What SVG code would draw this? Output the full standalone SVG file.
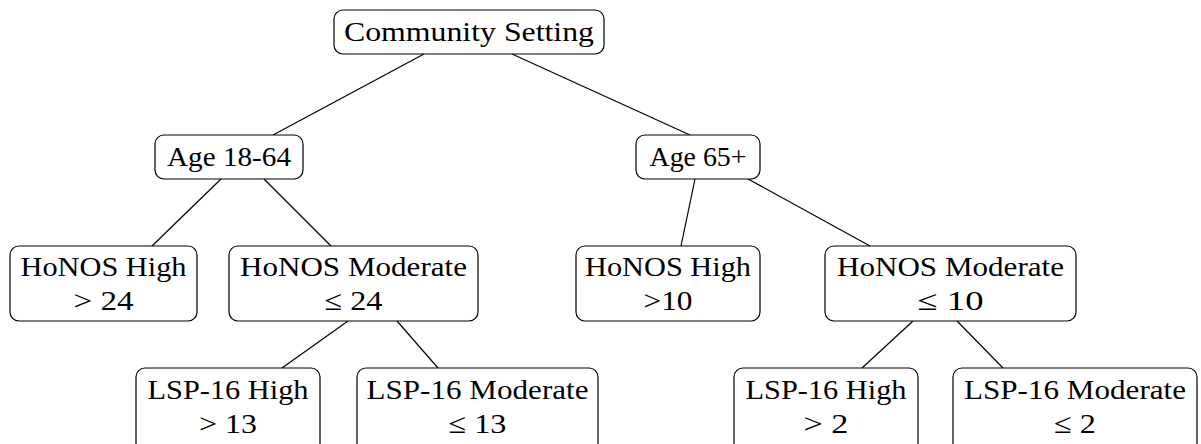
<svg xmlns="http://www.w3.org/2000/svg" width="1201" height="444" viewBox="0 0 1201 444">
  <style>
    .box { fill: #ffffff; stroke: #000000; stroke-width: 1.2; }
    .lbl { font-family: "Liberation Serif", "DejaVu Serif", serif; font-size: 28px; fill: #000000; text-anchor: middle; }
    .edge { stroke: #000000; stroke-width: 1.2; fill: none; }
  </style>
  <rect width="1201" height="444" fill="#ffffff"/>

  <!-- tree edges -->
  <g id="connectors">
    <line class="edge" x1="424" y1="54" x2="273" y2="135"/>
    <line class="edge" x1="512" y1="54" x2="690" y2="135"/>
    <line class="edge" x1="221" y1="179" x2="152" y2="246"/>
    <line class="edge" x1="264" y1="179" x2="331" y2="246"/>
    <line class="edge" x1="695" y1="179" x2="681" y2="246"/>
    <line class="edge" x1="748" y1="179" x2="870" y2="246"/>
    <line class="edge" x1="348" y1="321" x2="282" y2="368"/>
    <line class="edge" x1="397" y1="321" x2="438" y2="368"/>
    <line class="edge" x1="913" y1="321" x2="862" y2="368"/>
    <line class="edge" x1="957" y1="321" x2="1003" y2="368"/>
  </g>

  <g id="root">
    <rect class="box" x="334" y="10" width="270" height="44" rx="9"/>
    <text class="lbl" x="469" y="41" textLength="250" lengthAdjust="spacingAndGlyphs">Community Setting</text>
  </g>

  <g id="age-18-64">
    <rect class="box" x="155" y="135" width="148" height="44" rx="9"/>
    <text class="lbl" x="229" y="166" textLength="124" lengthAdjust="spacingAndGlyphs">Age 18-64</text>
  </g>

  <g id="age-65">
    <rect class="box" x="636" y="135" width="124" height="44" rx="9"/>
    <text class="lbl" x="698" y="166" textLength="97" lengthAdjust="spacingAndGlyphs">Age 65+</text>
  </g>

  <g id="honos-high-1864">
    <rect class="box" x="10" y="246" width="187" height="75" rx="9"/>
    <text class="lbl" x="103.5" y="276" textLength="166" lengthAdjust="spacingAndGlyphs">HoNOS High</text>
    <text class="lbl" x="103.5" y="310" textLength="60" lengthAdjust="spacingAndGlyphs">&gt; 24</text>
  </g>

  <g id="honos-moderate-1864">
    <rect class="box" x="229" y="246" width="249" height="75" rx="9"/>
    <text class="lbl" x="353.5" y="276" textLength="227" lengthAdjust="spacingAndGlyphs">HoNOS Moderate</text>
    <text class="lbl" x="353.5" y="310" textLength="58" lengthAdjust="spacingAndGlyphs">≤ 24</text>
  </g>

  <g id="honos-high-65">
    <rect class="box" x="576" y="246" width="184" height="75" rx="9"/>
    <text class="lbl" x="668" y="276" textLength="166" lengthAdjust="spacingAndGlyphs">HoNOS High</text>
    <text class="lbl" x="668" y="310" textLength="49" lengthAdjust="spacingAndGlyphs">&gt;10</text>
  </g>

  <g id="honos-moderate-65">
    <rect class="box" x="825" y="246" width="251" height="75" rx="9"/>
    <text class="lbl" x="950.5" y="276" textLength="227" lengthAdjust="spacingAndGlyphs">HoNOS Moderate</text>
    <text class="lbl" x="950.5" y="310" textLength="66" lengthAdjust="spacingAndGlyphs">≤ 10</text>
  </g>

  <g id="lsp-high-1864">
    <rect class="box" x="136" y="368" width="184" height="90" rx="9"/>
    <text class="lbl" x="228" y="399" textLength="161" lengthAdjust="spacingAndGlyphs">LSP-16 High</text>
    <text class="lbl" x="228" y="433" textLength="58" lengthAdjust="spacingAndGlyphs">&gt; 13</text>
  </g>

  <g id="lsp-moderate-1864">
    <rect class="box" x="357" y="368" width="241" height="90" rx="9"/>
    <text class="lbl" x="477.5" y="399" textLength="222" lengthAdjust="spacingAndGlyphs">LSP-16 Moderate</text>
    <text class="lbl" x="477.5" y="433" textLength="58" lengthAdjust="spacingAndGlyphs">≤ 13</text>
  </g>

  <g id="lsp-high-65">
    <rect class="box" x="734" y="368" width="184" height="90" rx="9"/>
    <text class="lbl" x="826" y="399" textLength="161" lengthAdjust="spacingAndGlyphs">LSP-16 High</text>
    <text class="lbl" x="826" y="433" textLength="45" lengthAdjust="spacingAndGlyphs">&gt; 2</text>
  </g>

  <g id="lsp-moderate-65">
    <rect class="box" x="953" y="368" width="244" height="90" rx="9"/>
    <text class="lbl" x="1075" y="399" textLength="222" lengthAdjust="spacingAndGlyphs">LSP-16 Moderate</text>
    <text class="lbl" x="1075" y="433" textLength="42" lengthAdjust="spacingAndGlyphs">≤ 2</text>
  </g>
</svg>
